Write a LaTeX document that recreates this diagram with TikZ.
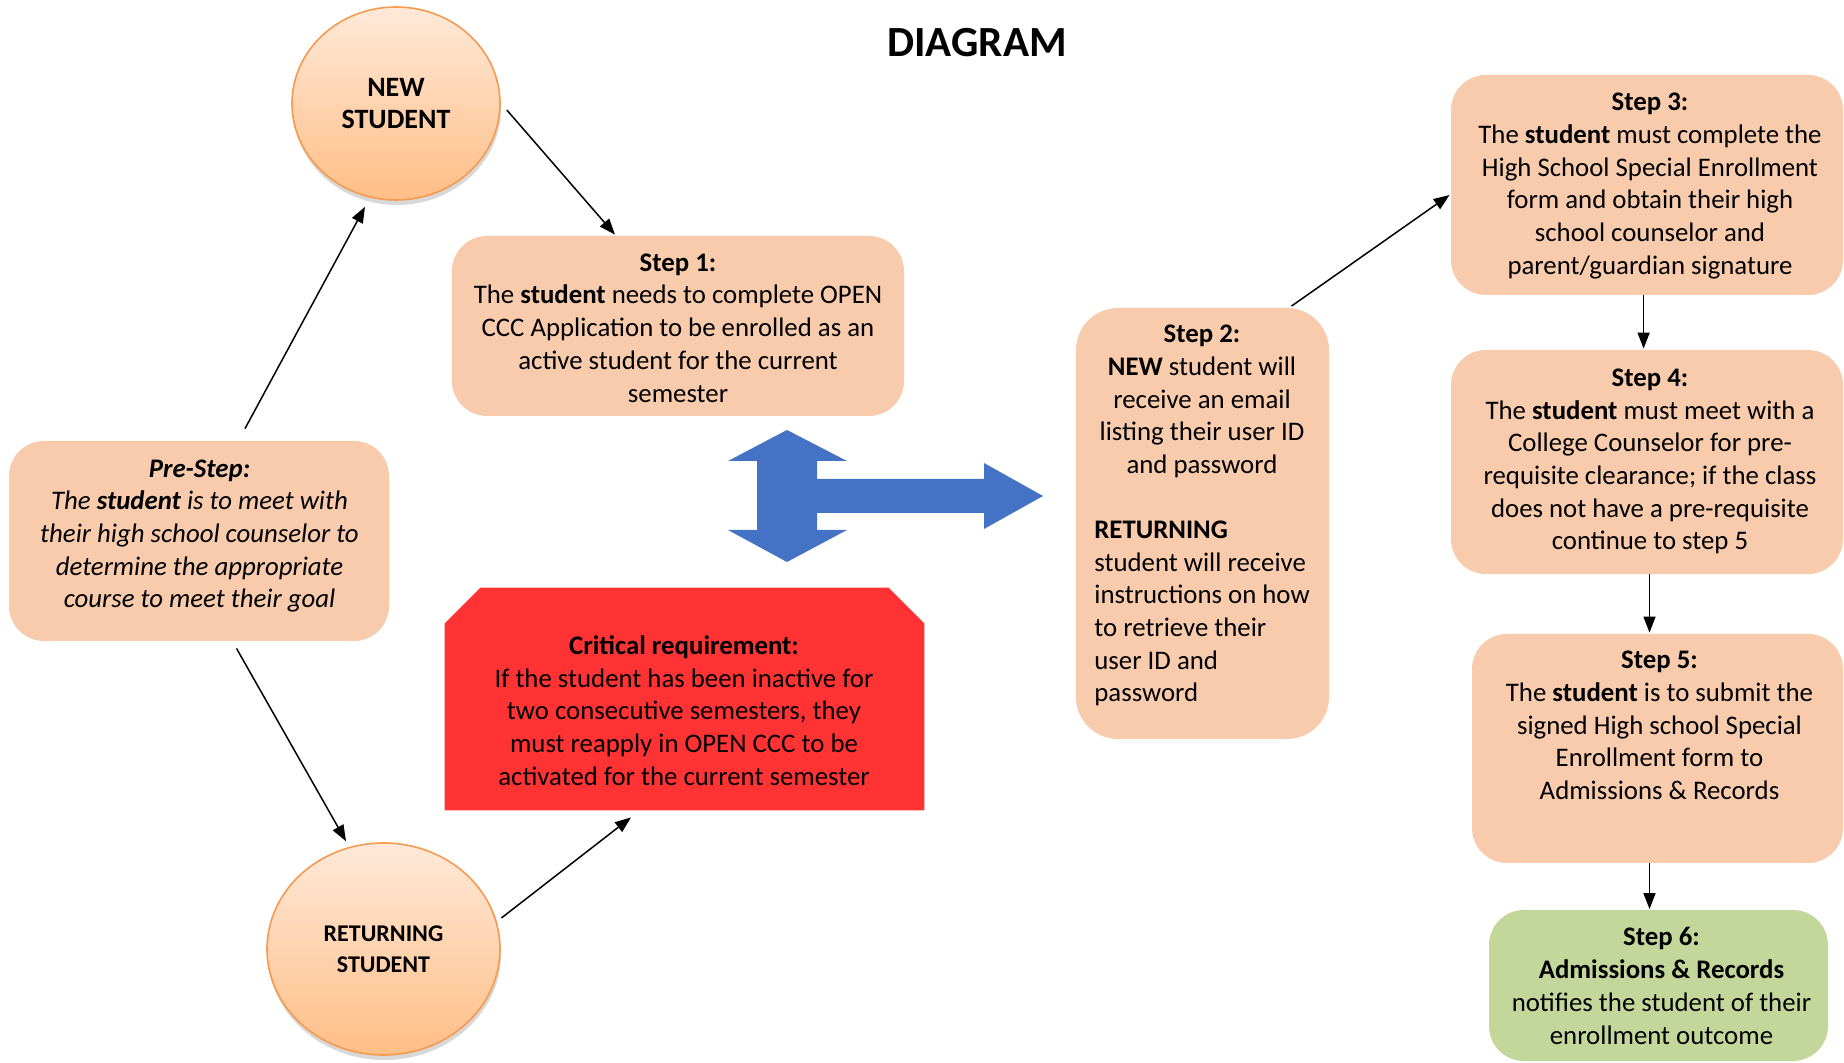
\documentclass[tikz,border=0pt]{standalone}
\usepackage{fontspec}
\setmainfont{Carlito}
\usetikzlibrary{arrows.meta,calc,shapes.geometric,shadows}
\definecolor{peach}{HTML}{F7CBAC}
\definecolor{leaf}{HTML}{C4D79B}
\definecolor{alarm}{HTML}{FF3333}
\definecolor{royal}{HTML}{4472C4}
\definecolor{ctop}{HTML}{FFE9D9}
\definecolor{cbot}{HTML}{FFBE86}
\definecolor{cline}{HTML}{F59A4E}
\begin{document}
\begin{tikzpicture}[x=0.5pt,y=-0.5pt,
  body/.style={font=\fontsize{13.4}{16.35}\selectfont, align=center, inner sep=0pt},
  pbox/.style={rectangle, rounded corners=17.5pt, fill=peach, draw=none, inner sep=0pt},
  circ/.style={ellipse, draw=cline, line width=0.8pt, top color=ctop, bottom color=cbot, inner sep=0pt, align=center,
    drop shadow={shadow xshift=0.5pt, shadow yshift=-2.5pt, opacity=0.22, fill=black!70}},
  arr/.style={-{Triangle[length=8pt,width=6pt]}, line width=0.75pt, black}]
\useasboundingbox (0,0) rectangle (1844,1063);
\clip (0,0) rectangle (1844,1063);

% title
\node[font=\fontsize{21.5}{25}\selectfont\bfseries, inner sep=0pt] (title) at (977,43) {DIAGRAM};

% circles
\node[circ, minimum width=104pt, minimum height=96.5pt, font=\fontsize{14}{16.35}\selectfont\bfseries] (new) at (396,103.5) {NEW\\STUDENT};
\node[circ, minimum width=116.5pt, minimum height=106pt, font=\fontsize{12}{15.25}\selectfont\bfseries] (ret) at (383.5,949) {RETURNING\\STUDENT};

% boxes
\node[pbox, minimum width=226pt, minimum height=90pt] (step1) at (678,326) {};
\node[pbox, minimum width=190pt, minimum height=100pt] (pre) at (199,541) {};
\node[pbox, rounded corners=21pt, minimum width=126.5pt, minimum height=215.5pt] (step2) at (1202.5,523.5) {};
\node[pbox, minimum width=196pt, minimum height=110pt] (step3) at (1647,185) {};
\node[pbox, minimum width=196pt, minimum height=112pt] (step4) at (1647,462) {};
\node[pbox, minimum width=185.5pt, minimum height=114.5pt] (step5) at (1657.5,748.5) {};
\node[pbox, fill=leaf, minimum width=169.5pt, minimum height=75.5pt] (step6) at (1658.5,985.5) {};
\node[minimum width=239.5pt, minimum height=111pt, inner sep=0pt] (crit) at (684.5,699) {};
\fill[alarm] (crit.south west) -- ($(crit.north west)+(0,36)$) -- ($(crit.north west)+(36,0)$)
  -- ($(crit.north east)+(-36,0)$) -- ($(crit.north east)+(0,36)$) -- (crit.south east) -- cycle;

% blue double/right arrow
\fill[royal] (787,430) -- (847,461) -- (817,461) -- (817,479) -- (984,479) -- (984,463) -- (1043,496)
  -- (984,529) -- (984,513) -- (817,513) -- (817,530) -- (847,530) -- (787,562) -- (728,530)
  -- (757,530) -- (757,461) -- (728,461) -- cycle;

% texts
\node[body] (t1) at (678,328) {\textbf{Step 1:}\\
The \textbf{student} needs to complete OPEN\\
CCC Application to be enrolled as an\\
active student for the current\\
semester};
\node[body, font=\fontsize{13.4}{16.35}\selectfont\itshape] (tp) at (199.5,536) {\textbf{Pre-Step:}\\
The \textbf{student} is to meet with\\
their high school counselor to\\
determine the appropriate\\
course to meet their goal};
\node[body] (tc) at (684,710.5) {\textbf{Critical requirement:}\\
If the student has been inactive for\\
two consecutive semesters, they\\
must reapply in OPEN CCC to be\\
activated for the current semester};
\node[body] (t2a) at (1202,401.5) {\textbf{Step 2:}\\
\textbf{NEW} student will\\
receive an email\\
listing their user ID\\
and password};
\node[body, align=left, anchor=west] (t2b) at (1094,613.5) {\textbf{RETURNING}\\
student will receive\\
instructions on how\\
to retrieve their\\
user ID and\\
password};
\node[body] (t3) at (1650,186) {\textbf{Step 3:}\\
The \textbf{student} must complete the\\
High School Special Enrollment\\
form and obtain their high\\
school counselor and\\
parent/guardian signature};
\node[body] (t4) at (1650,461.5) {\textbf{Step 4:}\\
The \textbf{student} must meet with a\\
College Counselor for pre-\\
requisite clearance; if the class\\
does not have a pre-requisite\\
continue to step 5};
\node[body] (t5) at (1659.5,725.5) {\textbf{Step 5:}\\
The \textbf{student} is to submit the\\
signed High school Special\\
Enrollment form to\\
Admissions \& Records};
\node[body] (t6) at (1661.5,986) {\textbf{Step 6:}\\
\textbf{Admissions \& Records}\\
notifies the student of their\\
enrollment outcome};

% connectors
\draw[arr] ($(new.east)+(6,6.5)$) -- ($(step1.north)+(-63,-1)$);
\draw[arr] ($(pre.north)+(46,-12)$) -- ($(new.south)+(-31,6)$);
\draw[arr] ($(pre.south)+(37.5,7)$) -- ($(ret.north)+(-37.5,-1)$);
\draw[arr] ($(ret.east)+(0.6,-31)$) -- ($(crit.south)+(-53.5,7)$);
\draw[arr] ($(step2.north)+(89,-1.5)$) -- ($(step3.west)+(-1,10)$);
\draw[arr] ($(step3.south)+(-3.4,0)$) -- ($(step4.north)+(-3.4,-1)$);
\draw[arr] ($(step4.south)+(2.5,0)$) -- ($(step5.north)+(-8,-1)$);
\draw[arr] ($(step5.south)+(-8,0)$) -- ($(step6.north)+(-9,-0.5)$);
\end{tikzpicture}
\end{document}
